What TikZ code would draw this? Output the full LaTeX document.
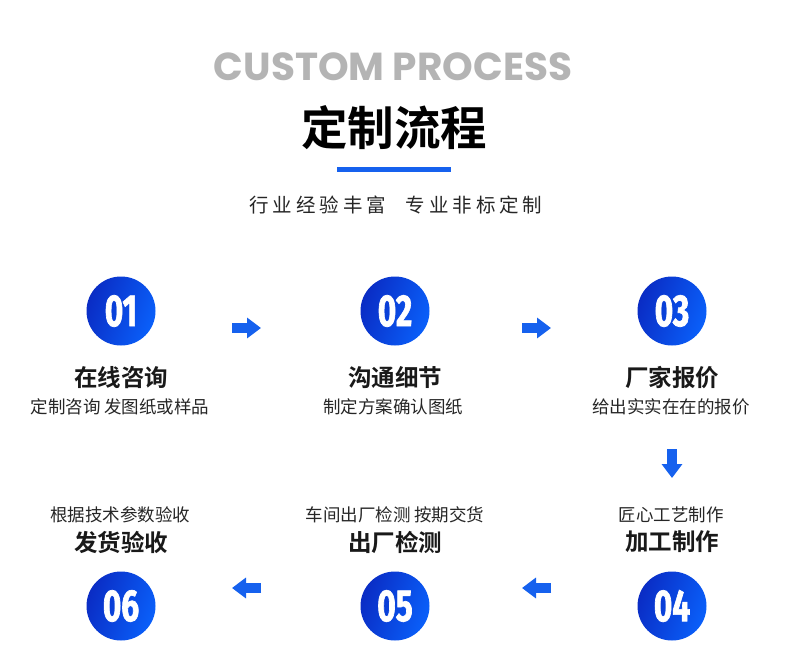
\documentclass[tikz,border=0pt]{standalone}
\usepackage{fontspec}
\usetikzlibrary{arrows.meta}
\newfontfamily\cjk{Noto Sans CJK SC}
\newfontfamily\cjkbold{Noto Sans CJK SC Bold}
\newfontfamily\enfont{Poppins}
\newfontfamily\numfont[FakeStretch=0.7, FakeBold=1.5]{Fira Sans}
\definecolor{stepdark}{HTML}{0A2CC4}
\definecolor{steplight}{HTML}{0A60FA}
\definecolor{arrowblue}{HTML}{1661EE}
\definecolor{titlegray}{HTML}{B4B4B4}
\tikzset{>=stealth}

\begin{document}
\begin{tikzpicture}[x=1pt, y=-1pt]
  \useasboundingbox[fill=white] (0, 0) rectangle (790, 666);
  \tikzset{
    stepcircle/.style={circle, minimum size=69pt, inner sep=0pt,
      left color=stepdark, right color=steplight, shading angle=70,
      text=white, font=\numfont\bfseries\fontsize{45}{45}\selectfont},
    steptitle/.style={font=\cjkbold\fontsize{23.5}{24}\selectfont, text=black!90},
    stepnote/.style={font=\cjk\fontsize{17.5}{18}\selectfont, text=black!85},
    blockarrow/.style={arrowblue, line width=10pt,
      -{Triangle[width=20pt, length=14pt]}}
  }

  % header
  \node[font=\enfont\bfseries\fontsize{39}{39}\selectfont, text=titlegray] (en) at (393, 67) {CUSTOM PROCESS};
  \node[font=\cjkbold\fontsize{46.5}{47}\selectfont] (cn) at (394, 128) {定制流程};
  \fill[arrowblue] (337, 167.5) rectangle (451, 172.5);
  \node[font=\cjk\addfontfeatures{LetterSpace=20}\fontsize{19.5}{20}\selectfont, text=black!85] (sub) at (396, 205) {行业经验丰富\hspace{20pt}专业非标定制};

  % top row
  \node[stepcircle] (s1) at (121, 311) {01};
  \node[stepcircle] (s2) at (395, 311) {02};
  \node[stepcircle] (s3) at (672, 311) {03};
  \node[steptitle] (t1) at (121, 378) {在线咨询};
  \node[steptitle] (t2) at (395, 378) {沟通细节};
  \node[steptitle] (t3) at (672, 378) {厂家报价};
  \node[stepnote] (n1) at (120, 407) {定制咨询 发图纸或样品};
  \node[stepnote] (n2) at (393, 407) {制定方案确认图纸};
  \node[stepnote] (n3) at (671, 407) {给出实实在在的报价};

  % bottom row
  \node[stepcircle] (s6) at (121, 606) {06};
  \node[stepcircle] (s5) at (395, 606) {05};
  \node[stepcircle] (s4) at (672, 606) {04};
  \node[stepnote] (n6) at (120, 515) {根据技术参数验收};
  \node[stepnote] (n5) at (395, 515) {车间出厂检测 按期交货};
  \node[stepnote] (n4) at (671, 515) {匠心工艺制作};
  \node[steptitle] (t6) at (121, 542) {发货验收};
  \node[steptitle] (t5) at (395, 542) {出厂检测};
  \node[steptitle] (t4) at (672, 542) {加工制作};

  % arrows
  \coordinate (a12s) at (232, 328);  \coordinate (a12e) at (261, 328);
  \coordinate (a23s) at (522, 328);  \coordinate (a23e) at (551, 328);
  \coordinate (a34s) at (672, 449);  \coordinate (a34e) at (672, 478);
  \coordinate (a45s) at (551, 588);  \coordinate (a45e) at (522, 588);
  \coordinate (a56s) at (261, 588);  \coordinate (a56e) at (232, 588);
  \draw[blockarrow] (a12s) -- (a12e);
  \draw[blockarrow] (a23s) -- (a23e);
  \draw[blockarrow] (a34s) -- (a34e);
  \draw[blockarrow] (a45s) -- (a45e);
  \draw[blockarrow] (a56s) -- (a56e);
\end{tikzpicture}
\end{document}
